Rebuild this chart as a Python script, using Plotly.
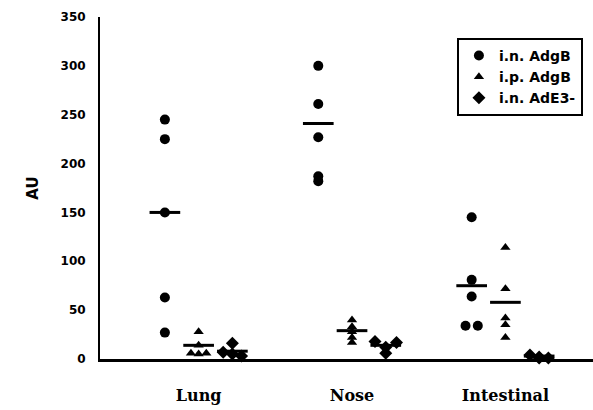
import plotly.graph_objects as go

# ---- data ----
categories = ["Lung", "Nose", "Intestinal"]
series_names = ["i.n. AdgB", "i.p. AdgB", "i.n. AdE3-"]

# values per category for each series
in_adgb = [[245, 225, 150, 63, 27], [300, 261, 227, 187, 182], [145, 81, 64, 34, 34]]
ip_adgb = [[28, 14, 6, 5, 6], [40, 33, 28, 22, 17], [114, 72, 42, 35, 22]]
in_ade3 = [[16, 7, 5, 3], [18, 17, 12, 6], [4, 2, 1, 1]]

# small horizontal jitter used in the original to separate overlapping points
in_adgb_jit = [[0, 0, 0, 0, 0], [0, 0, 0, 0, 0], [0, 0, 0, -0.04, 0.04]]
ip_adgb_jit = [[0, 0, -0.05, 0, 0.05], [0, 0, 0, 0, 0], [0, 0, 0, 0, 0]]
in_ade3_jit = [[0, -0.06, 0, 0.06], [-0.07, 0.07, 0, 0], [-0.06, 0, 0.06, 0]]

# central (mean) values shown as short horizontal bars
in_adgb_mean = [150, 241, 75]
ip_adgb_mean = [14, 29, 58]
in_ade3_mean = [8, 14, 3]

y_ticks = [0, 50, 100, 150, 200, 250, 300, 350]

# ---- layout/styling ----
offsets = [-0.22, 0.0, 0.22]
symbols = ["circle", "triangle-up", "diamond"]
sizes = [10, 9, 10]
half_w = 0.1

fig = go.Figure()
all_series = [(in_adgb, in_adgb_jit, in_adgb_mean), (ip_adgb, ip_adgb_jit, ip_adgb_mean),
              (in_ade3, in_ade3_jit, in_ade3_mean)]

for s, (vals, jits, means) in enumerate(all_series):
    xs, ys = [], []
    for c, (vlist, jlist) in enumerate(zip(vals, jits)):
        for v, j in zip(vlist, jlist):
            xs.append(c + 1 + offsets[s] + j)
            ys.append(v)
    fig.add_trace(go.Scatter(x=xs, y=ys, mode="markers", name=series_names[s],
                             marker=dict(symbol=symbols[s], size=sizes[s], color="black"),
                             cliponaxis=False, showlegend=True))
    lx, ly = [], []
    for c, m in enumerate(means):
        cx = c + 1 + offsets[s]
        lx += [cx - half_w, cx + half_w, None]
        ly += [m, m, None]
    fig.add_trace(go.Scatter(x=lx, y=ly, mode="lines", line=dict(color="black", width=3),
                             cliponaxis=False, showlegend=False, hoverinfo="skip"))

fig.update_layout(
    width=593, height=410,
    margin=dict(l=100, r=0, t=17, b=51),
    paper_bgcolor="white", plot_bgcolor="white",
    showlegend=True,
    legend=dict(x=0.724, y=0.939, xanchor="left", yanchor="top",
                bordercolor="black", borderwidth=2, bgcolor="white",
                font=dict(family="DejaVu Sans", size=14, color="black", weight="bold"),
                itemwidth=30, tracegroupgap=0),
    xaxis=dict(range=[0.357, 3.571], tickvals=[1, 2, 3], ticktext=categories,
               showgrid=False, zeroline=False, showline=True, linecolor="black", linewidth=3,
               ticks="", ticklabelstandoff=20,
               tickfont=dict(family="DejaVu Serif", size=16, color="black", weight="bold")),
    yaxis=dict(range=[0, 350], tickvals=y_ticks, showgrid=False, zeroline=False,
               showline=True, linecolor="black", linewidth=2, ticks="",
               ticklabelstandoff=10,
               tickfont=dict(family="DejaVu Sans", size=12, color="black", weight="bold"),
               title=dict(text="AU", standoff=18,
                          font=dict(family="DejaVu Sans", size=15, color="black", weight="bold"))),
)

fig.write_html("out.html")
